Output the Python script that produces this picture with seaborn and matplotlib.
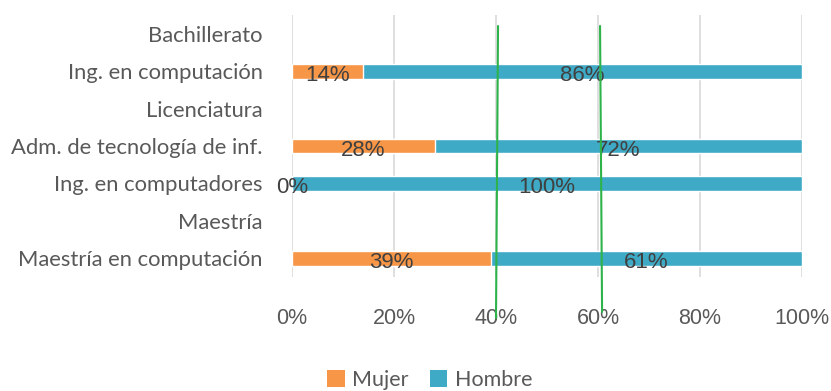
import numpy as np
import pandas as pd
import matplotlib
matplotlib.use("Agg")
import matplotlib.pyplot as plt
from matplotlib.patches import Patch
import seaborn as sns

# Rows from top to bottom; header rows (Bachillerato, Licenciatura, Maestría) carry no bars
categories = [
    "Bachillerato",
    "Ing. en computación",
    "Licenciatura",
    "Adm. de tecnología de inf.",
    "Ing. en computadores",
    "Maestría",
    "Maestría en computación",
]
mujer = [np.nan, 14, np.nan, 28, 0, np.nan, 39]
hombre = [np.nan, 86, np.nan, 72, 100, np.nan, 61]
x_ticks = [0, 20, 40, 60, 80, 100]
x_tick_labels = ["0%", "20%", "40%", "60%", "80%", "100%"]
series_names = ["Mujer", "Hombre"]
# Hand-drawn reference lines (x at top, x at bottom) in percent
ref_lines = [(40.4, 40.0), (60.4, 60.8)]

ORANGE = "#F79646"
BLUE = "#3FAAC6"
GREEN = "#2DB34A"

df = pd.DataFrame({"categoria": categories, "Mujer": mujer, "Hombre": hombre})
df["total"] = df["Mujer"] + df["Hombre"]

sns.set_theme(style="white")
plt.rcParams["font.family"] = ["Liberation Sans", "DejaVu Sans"]

fig = plt.figure(figsize=(8.31, 3.91), dpi=100)
ax = fig.add_axes([292 / 831, 1 - 277 / 391, 510 / 831, 262 / 391])

bar_w = 0.4
sns.barplot(data=df, y="categoria", x="total", order=categories, color=BLUE,
            width=bar_w, saturation=1, orient="h", ax=ax, errorbar=None)
sns.barplot(data=df, y="categoria", x="Mujer", order=categories, color=ORANGE,
            width=bar_w, saturation=1, orient="h", ax=ax, errorbar=None)

ax.set_xlim(0, 100)
ax.set_ylim(len(categories) - 0.5, -0.5)
ax.set_xticks(x_ticks)
ax.set_xticklabels(x_tick_labels, fontsize=15.5, color="#595959")
ax.tick_params(axis="x", length=0, pad=22)
ax.tick_params(axis="y", length=0, pad=21)
ax.set_yticks(range(len(categories)))
ax.set_yticklabels(categories, fontsize=15.8, color="#595959", family=["Lato", "DejaVu Sans"])
ax.set_xlabel("")
ax.set_ylabel("")
ax.xaxis.grid(True, color="#D9D9D9", linewidth=1.2)
ax.yaxis.grid(False)
ax.set_axisbelow(True)
for s in ax.spines.values():
    s.set_visible(False)

# Value labels centred on each segment
for i, (m, h) in enumerate(zip(mujer, hombre)):
    if np.isnan(m):
        continue
    ax.annotate(f"{m:.0f}%", (m / 2, i), xytext=(0, -3), textcoords="offset points",
                ha="center", va="center", fontsize=16, color="#404040")
    ax.annotate(f"{h:.0f}%", (m + h / 2, i), xytext=(0, -3), textcoords="offset points",
                ha="center", va="center", fontsize=16, color="#404040")

# Green reference lines
y_top = -0.5 + (26 - 15) / (262 / 7)
for (xt, xb), yb in zip(ref_lines, [318, 312]):
    y_bot = -0.5 + (yb - 15) / (262 / 7)
    ax.plot([xt, xb], [y_top, y_bot], color=GREEN, linewidth=1.5, clip_on=False, zorder=5)

handles = [Patch(facecolor=ORANGE, edgecolor="none"), Patch(facecolor=BLUE, edgecolor="none")]
fig.legend(handles, series_names, loc="center", bbox_to_anchor=(430 / 831, 1 - 380 / 391),
           ncol=2, frameon=False, handlelength=0.8, handleheight=0.8, handletextpad=0.35,
           columnspacing=1.0, prop={"family": ["Lato", "DejaVu Sans"], "size": 15.5},
           labelcolor="#595959")

fig.savefig("out.png", dpi=100)
